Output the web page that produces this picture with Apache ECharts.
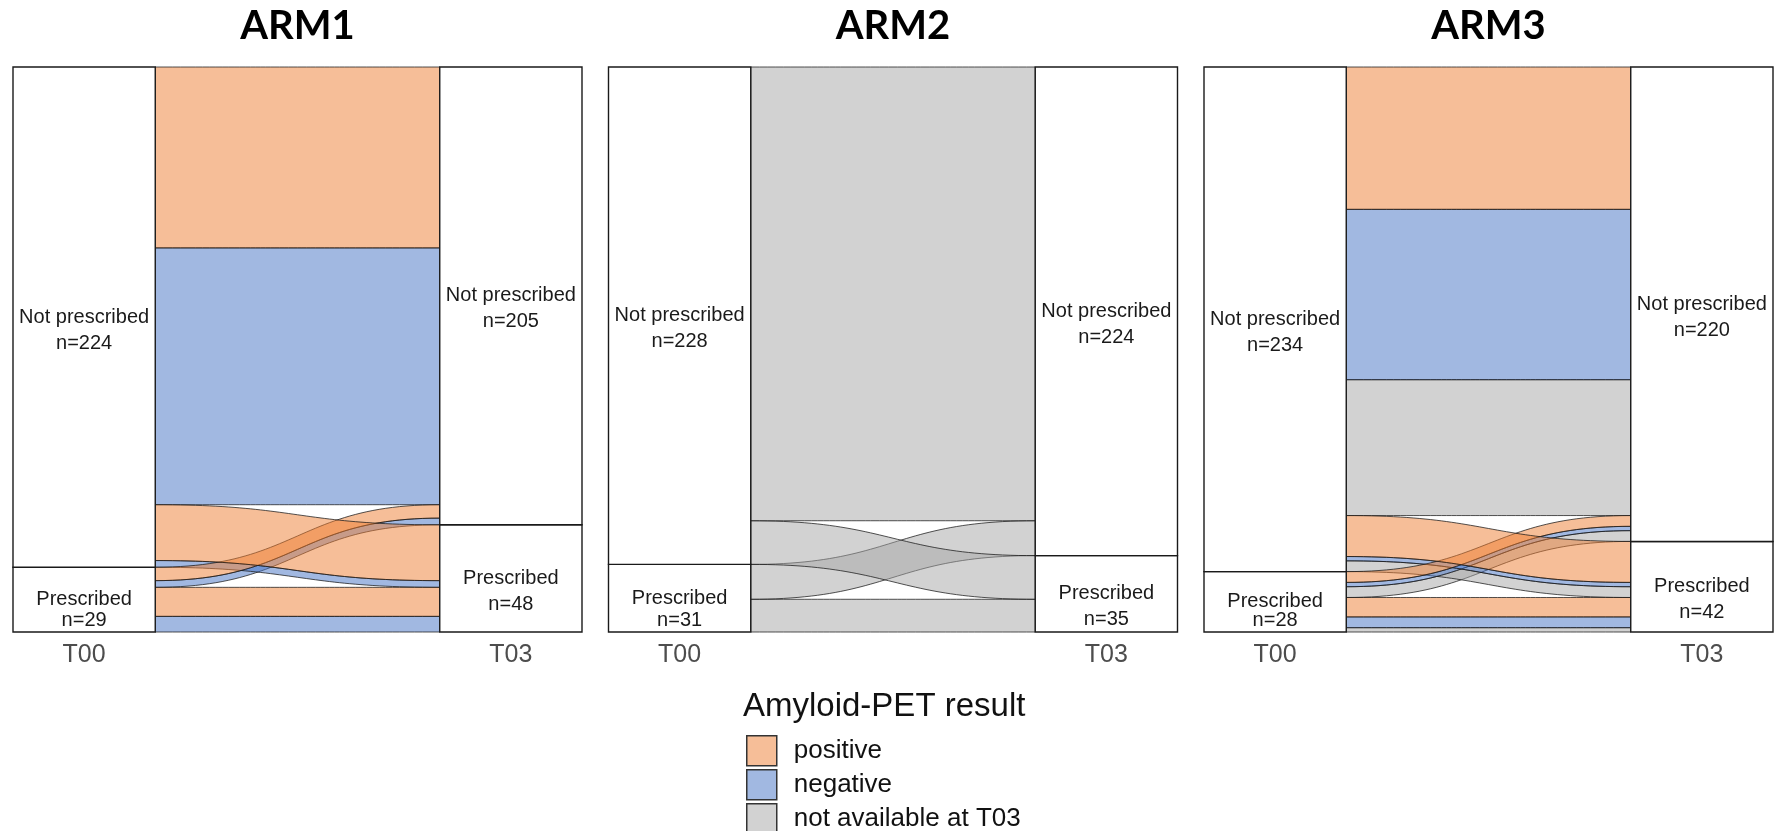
<!DOCTYPE html>
<html>
<head>
<meta charset="utf-8">
<script src="https://cdn.jsdelivr.net/npm/echarts@6/dist/echarts.min.js"></script>
<style>
  html, body { margin: 0; padding: 0; background: #ffffff; }
  #chart { width: 1782px; height: 831px; }
</style>
</head>
<body>
<div id="chart"></div>
<script>
// ---- data -------------------------------------------------------------
const arms = ['ARM1', 'ARM2', 'ARM3'];
const timepoints = ['T00', 'T03'];
// stacking order of strata on each axis, bottom to top
const statuses = ['Prescribed', 'Not prescribed'];
// stacking order of lodes inside a stratum, bottom to top
const results = ['not available at T03', 'negative', 'positive'];
const legendOrder = ['positive', 'negative', 'not available at T03'];
const legendTitle = 'Amyloid-PET result';

// [status at T00, status at T03, amyloid-PET result, patients]
const arm1Flows = [
  ['Prescribed', 'Prescribed', 'negative', 7],
  ['Prescribed', 'Prescribed', 'positive', 13],
  ['Prescribed', 'Not prescribed', 'negative', 3],
  ['Prescribed', 'Not prescribed', 'positive', 6],
  ['Not prescribed', 'Prescribed', 'negative', 3],
  ['Not prescribed', 'Prescribed', 'positive', 25],
  ['Not prescribed', 'Not prescribed', 'negative', 115],
  ['Not prescribed', 'Not prescribed', 'positive', 81]
];
const arm2Flows = [
  ['Prescribed', 'Prescribed', 'not available at T03', 15],
  ['Prescribed', 'Not prescribed', 'not available at T03', 16],
  ['Not prescribed', 'Prescribed', 'not available at T03', 20],
  ['Not prescribed', 'Not prescribed', 'not available at T03', 208]
];
const arm3Flows = [
  ['Prescribed', 'Prescribed', 'not available at T03', 2],
  ['Prescribed', 'Prescribed', 'negative', 5],
  ['Prescribed', 'Prescribed', 'positive', 9],
  ['Prescribed', 'Not prescribed', 'not available at T03', 5],
  ['Prescribed', 'Not prescribed', 'negative', 2],
  ['Prescribed', 'Not prescribed', 'positive', 5],
  ['Not prescribed', 'Prescribed', 'not available at T03', 5],
  ['Not prescribed', 'Prescribed', 'negative', 2],
  ['Not prescribed', 'Prescribed', 'positive', 19],
  ['Not prescribed', 'Not prescribed', 'not available at T03', 63],
  ['Not prescribed', 'Not prescribed', 'negative', 79],
  ['Not prescribed', 'Not prescribed', 'positive', 66]
];
const armFlows = [arm1Flows, arm2Flows, arm3Flows];

// ---- styling ------------------------------------------------------------
const resultColors = {
  'positive': 'rgba(237,125,49,0.5)',
  'negative': 'rgba(68,114,196,0.5)',
  'not available at T03': 'rgba(165,165,165,0.5)'
};
const FONT = '"Liberation Sans", Arial, sans-serif';
const W = 1 / 3;                       // stratum width in axis units (axes at x = 1 and x = 2)
const gridLefts = [13, 608.5, 1204];
const gridWidth = 569;
const gridTop = 67;
const gridHeight = 565;

// ---- alluvial layout ---------------------------------------------------
// lode extents of every flow on both axes
function stackLodes(flows) {
  const pos = flows.map(() => [null, null]);
  [0, 1].forEach(side => {
    const other = 1 - side;
    const key = f => [statuses.indexOf(f[side]), statuses.indexOf(f[other]), results.indexOf(f[2])];
    const order = flows.map((_, i) => i).sort((a, b) => {
      const ka = key(flows[a]), kb = key(flows[b]);
      for (let k = 0; k < 3; k++) if (ka[k] !== kb[k]) return ka[k] - kb[k];
      return 0;
    });
    let y = 0;
    order.forEach(i => { pos[i][side] = [y, y + flows[i][3]]; y += flows[i][3]; });
  });
  return pos;
}

// stratum extents and sizes on both axes
function strataOf(flows) {
  const out = [];
  [0, 1].forEach(side => {
    let y = 0;
    statuses.forEach(s => {
      const n = flows.filter(f => f[side] === s).reduce((acc, f) => acc + f[3], 0);
      out.push({ axis: side + 1, status: s, n: n, bottom: y, top: y + n });
      y += n;
    });
  });
  return out;
}

function cubic(p0, p1, p2, p3, t) {
  const u = 1 - t;
  return u * u * u * p0 + 3 * u * u * t * p1 + 3 * u * t * t * p2 + t * t * t * p3;
}

function renderFlow(params, api) {
  const xl = 1 + W / 2, xr = 2 - W / 2;
  const lb = api.coord([xl, api.value(0)]);
  const lt = api.coord([xl, api.value(1)]);
  const rb = api.coord([xr, api.value(2)]);
  const rt = api.coord([xr, api.value(3)]);
  const xm = (lb[0] + rb[0]) / 2;
  const steps = 48;
  const pts = [];
  for (let s = 0; s <= steps; s++) {
    const t = s / steps;
    pts.push([cubic(lt[0], xm, xm, rt[0], t), cubic(lt[1], lt[1], rt[1], rt[1], t)]);
  }
  for (let s = 0; s <= steps; s++) {
    const t = s / steps;
    pts.push([cubic(rb[0], xm, xm, lb[0], t), cubic(rb[1], rb[1], lb[1], lb[1], t)]);
  }
  return {
    type: 'polygon',
    shape: { points: pts },
    style: { fill: api.visual('color'), stroke: 'rgba(25,25,25,0.75)', lineWidth: 1 }
  };
}

function makeStratumRenderer(strata) {
  return function (params, api) {
    const s = strata[params.dataIndex];
    const x = api.value(0);
    const p0 = api.coord([x - W / 2, api.value(2)]);
    const p1 = api.coord([x + W / 2, api.value(1)]);
    const cx = (p0[0] + p1[0]) / 2;
    const cy = (p0[1] + p1[1]) / 2;
    const y2 = Math.min(cy + 26, p1[1] - 12);
    return {
      type: 'group',
      children: [
        {
          type: 'rect',
          shape: { x: p0[0], y: p0[1], width: p1[0] - p0[0], height: p1[1] - p0[1] },
          style: { fill: '#ffffff', stroke: '#1a1a1a', lineWidth: 1.4 }
        },
        {
          type: 'text', x: cx, y: cy,
          style: { text: s.status, align: 'center', verticalAlign: 'middle', font: '20px ' + FONT, fill: '#1a1a1a' }
        },
        {
          type: 'text', x: cx, y: y2,
          style: { text: 'n=' + s.n, align: 'center', verticalAlign: 'middle', font: '20px ' + FONT, fill: '#1a1a1a' }
        }
      ]
    };
  };
}

// ---- chart options -------------------------------------------------------
const grids = [], xAxes = [], yAxes = [], series = [], graphics = [];

armFlows.forEach((flows, g) => {
  const total = flows.reduce((acc, f) => acc + f[3], 0);
  grids.push({ left: gridLefts[g], top: gridTop, width: gridWidth, height: gridHeight, containLabel: false });
  xAxes.push({
    type: 'value', gridIndex: g, min: 1 - W / 2, max: 2 + W / 2,
    axisLine: { show: false }, axisTick: { show: false }, splitLine: { show: false },
    axisLabel: {
      customValues: [1, 2],
      formatter: v => timepoints[Math.round(v) - 1] || '',
      color: '#4d4d4d', fontFamily: FONT, fontSize: 25, margin: 11
    }
  });
  yAxes.push({ type: 'value', gridIndex: g, min: 0, max: total, show: false });

  const lodes = stackLodes(flows);
  results.forEach(r => {
    const data = [];
    flows.forEach((f, i) => {
      if (f[2] === r) data.push([lodes[i][0][0], lodes[i][0][1], lodes[i][1][0], lodes[i][1][1]]);
    });
    if (!data.length) return;
    series.push({
      type: 'custom', name: r, coordinateSystem: 'cartesian2d',
      xAxisIndex: g, yAxisIndex: g, z: 2, silent: true, clip: false,
      itemStyle: { color: resultColors[r] },
      renderItem: renderFlow, data: data
    });
  });

  const strata = strataOf(flows);
  series.push({
    type: 'custom', name: 'strata', coordinateSystem: 'cartesian2d',
    xAxisIndex: g, yAxisIndex: g, z: 3, silent: true, clip: false,
    renderItem: makeStratumRenderer(strata),
    data: strata.map(s => [s.axis, s.bottom, s.top])
  });

  graphics.push({
    type: 'text', x: gridLefts[g] + gridWidth / 2, y: 26,
    style: { text: arms[g], align: 'center', verticalAlign: 'middle',
             font: 'bold 40px Lato, "Open Sans", sans-serif', fill: '#000000' }
  });
});

graphics.push({
  type: 'text', x: 743, y: 707,
  style: { text: legendTitle, align: 'left', verticalAlign: 'middle', font: '33px ' + FONT, fill: '#111111' }
});

const chart = echarts.init(document.getElementById('chart'), null, { renderer: 'canvas' });
chart.setOption({
  animation: false,
  backgroundColor: '#ffffff',
  grid: grids,
  xAxis: xAxes,
  yAxis: yAxes,
  legend: {
    data: legendOrder.map(n => ({
      name: n, icon: 'rect',
      itemStyle: { color: resultColors[n], borderColor: '#333333', borderWidth: 1.5 }
    })),
    orient: 'vertical', left: 746, top: 735, width: 400, height: 140, padding: 0,
    itemWidth: 30, itemHeight: 30, itemGap: 2.5, selectedMode: false,
    textStyle: { fontFamily: FONT, fontSize: 26, color: '#111111', padding: [0, 0, 0, 12] }
  },
  graphic: graphics,
  series: series
});
</script>
</body>
</html>
